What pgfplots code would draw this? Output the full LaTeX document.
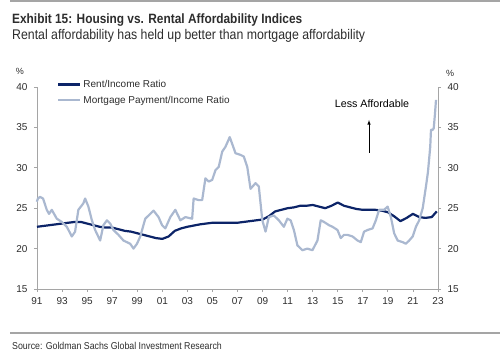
\documentclass[border=0pt]{standalone}
\usepackage{pgfplots}
\pgfplotsset{compat=1.18}
\usepackage{fontspec}
\setmainfont{Liberation Sans}
\newfontfamily\narrow[FakeStretch=0.88]{Liberation Sans}
\definecolor{rentc}{RGB}{12,36,104}
\definecolor{mortc}{RGB}{170,184,208}
\definecolor{axc}{RGB}{165,165,165}
\definecolor{txt}{RGB}{45,45,45}
\begin{document}
\begin{tikzpicture}[x=1pt,y=1pt]
\path[use as bounding box] (0,0) rectangle (500,356);
\draw[axc, line width=1.5pt] (10,355) -- (500,355);
\draw[axc, line width=1.5pt] (10,23) -- (500,23);
\node[anchor=base west, inner sep=0, text=txt] at (12,332.5) {\narrow\bfseries\fontsize{13.5}{15}\selectfont Exhibit 15: Housing vs. Rental Affordability Indices};
\node[anchor=base west, inner sep=0, text=txt] at (12,316.5) {\narrow\fontsize{14}{15}\selectfont Rental affordability has held up better than mortgage affordability};
\node[anchor=base west, inner sep=0, text=txt] at (12,6.5) {\narrow\fontsize{10}{12}\selectfont Source: Goldman Sachs Global Investment Research};
\node[text=txt, inner sep=0] at (20,285) {\fontsize{9}{10}\selectfont \%};
\node[text=txt, inner sep=0] at (450,283) {\fontsize{9}{10}\selectfont \%};
\begin{axis}[at={(37pt,67pt)}, anchor=south west, scale only axis,
  width=401pt, height=202pt,
  xmin=1991, xmax=2023, ymin=15, ymax=40,
  axis x line*=bottom, axis y line*=left,
  axis line style={axc, line width=0.8pt},
  tick style={axc, line width=0.8pt},
  tick align=outside, major tick length=3pt,
  xtick={1991,1993,...,2023},
  xticklabels={91,93,95,97,99,01,03,05,07,09,11,13,15,17,19,21,23},
  ytick={15,20,...,40},
  /pgf/number format/assume math mode=true,
  ticklabel style={font=\fontsize{10}{12}\selectfont, text=txt},
  xticklabel style={yshift=-2pt},
  yticklabel style={xshift=-3pt},
  legend style={draw=none, fill=none, anchor=north west, at={(0.05,1.045)},
    font=\fontsize{10}{12}\selectfont, text=txt, row sep=3pt, inner sep=0pt},
  legend cell align=left,
  legend image code/.code={\draw[#1] (0pt,0pt) -- (22pt,0pt);},
  clip=false,
]
\addplot[rentc, line width=2.2pt, line join=round] coordinates {
(1991.0,22.7)(1992,22.9)(1993,23.1)(1994,23.3)(1994.5,23.3)(1995,23.1)(1995.5,22.9)
(1996,22.7)(1996.5,22.6)(1997,22.6)(1997.5,22.4)(1998,22.2)(1998.5,22.1)(1999,21.9)
(1999.5,21.7)(2000,21.5)(2000.5,21.3)(2001,21.2)(2001.5,21.5)(2002,22.2)(2002.5,22.5)
(2003,22.7)(2004,23.0)(2005,23.2)(2006,23.2)(2007,23.2)(2008,23.4)(2009,23.6)
(2009.5,24.0)(2010,24.6)(2010.5,24.8)(2011,25.0)(2011.5,25.1)(2012,25.3)(2012.5,25.3)
(2013,25.4)(2013.5,25.2)(2014,25.0)(2014.5,25.3)(2015,25.7)(2015.5,25.3)(2016,25.1)
(2016.5,24.9)(2017,24.8)(2017.5,24.8)(2018,24.8)(2018.5,24.7)(2019,24.5)(2019.5,24.0)
(2020,23.4)(2020.5,23.8)(2021,24.3)(2021.5,23.9)(2022,23.8)(2022.5,23.9)(2022.9,24.6)
};
\addlegendentry{Rent/Income Ratio}
\addplot[mortc, line width=2.2pt, line join=round] coordinates {
(1990.98,25.8)(1991.08,26.2)(1991.24,26.4)(1991.48,26.2)(1991.78,24.8)(1991.96,24.3)
(1992.18,24.8)(1992.58,23.7)(1992.98,23.3)(1993.38,22.7)(1993.78,21.5)(1994.04,22.1)
(1994.30,24.8)(1994.70,25.6)(1994.84,26.2)(1995.10,25.2)(1995.38,23.5)(1995.64,22.3)
(1996.04,21.0)(1996.30,22.9)(1996.58,23.5)(1996.84,23.1)(1997.10,22.3)(1997.50,21.7)
(1997.90,21.0)(1998.44,20.6)(1998.70,20.0)(1998.98,20.6)(1999.24,21.5)(1999.64,23.7)
(2000.04,24.3)(2000.30,24.7)(2000.70,23.9)(2000.98,22.9)(2001.24,22.5)(2001.64,23.9)
(2002.04,24.8)(2002.44,23.5)(2002.84,23.9)(2003.38,23.7)(2003.50,26.2)(2003.90,26.0)
(2004.18,26.0)(2004.44,28.7)(2004.70,28.3)(2004.98,28.5)(2005.24,29.7)(2005.50,30.1)
(2005.78,32.0)(2006.04,32.6)(2006.38,33.8)(2006.66,32.6)(2006.84,31.8)(2007.24,31.6)
(2007.50,31.4)(2007.78,30.1)(2008.04,27.4)(2008.44,28.1)(2008.70,27.7)(2008.98,23.5)
(2009.24,22.1)(2009.50,23.9)(2009.90,24.1)(2010.30,23.5)(2010.70,22.7)(2010.98,23.7)
(2011.24,23.5)(2011.50,22.3)(2011.78,20.4)(2012.18,19.8)(2012.58,20.0)(2012.98,19.8)
(2013.38,21.0)(2013.64,23.5)(2013.90,23.3)(2014.30,22.9)(2014.58,22.7)(2014.98,22.3)
(2015.24,21.3)(2015.50,21.7)(2015.78,21.7)(2016.18,21.5)(2016.58,21.0)(2016.84,20.8)
(2017.10,22.1)(2017.38,22.3)(2017.78,22.5)(2018.04,23.5)(2018.30,24.8)(2018.70,24.8)
(2018.98,25.2)(2019.24,23.9)(2019.50,21.9)(2019.78,21.0)(2020.18,20.8)(2020.44,20.6)
(2020.70,21.0)(2020.98,21.5)(2021.24,22.7)(2021.50,23.5)(2021.78,25.0)(2022.04,27.7)
(2022.20,29.5)(2022.38,32.6)(2022.44,34.7)(2022.58,34.7)(2022.66,34.9)(2022.76,36.7)
(2022.84,38.4)
};
\addlegendentry{Mortgage Payment/Income Ratio}
\end{axis}
\begin{axis}[at={(37pt,67pt)}, anchor=south west, scale only axis,
  width=401pt, height=202pt,
  xmin=1991, xmax=2023, ymin=15, ymax=40,
  axis x line=none, axis y line*=right,
  axis line style={axc, line width=0.8pt},
  tick style={axc, line width=0.8pt},
  tick align=outside, major tick length=3pt,
  ytick={15,20,...,40},
  /pgf/number format/assume math mode=true,
  ticklabel style={font=\fontsize{10}{12}\selectfont, text=txt},
  yticklabel style={xshift=3pt},
]
\end{axis}
\node[text=black, inner sep=0] at (372,252) {\fontsize{10.7}{12}\selectfont Less Affordable};
\draw[-latex, black, line width=0.6pt] (369,203) -- (369,236);
\end{tikzpicture}
\end{document}
